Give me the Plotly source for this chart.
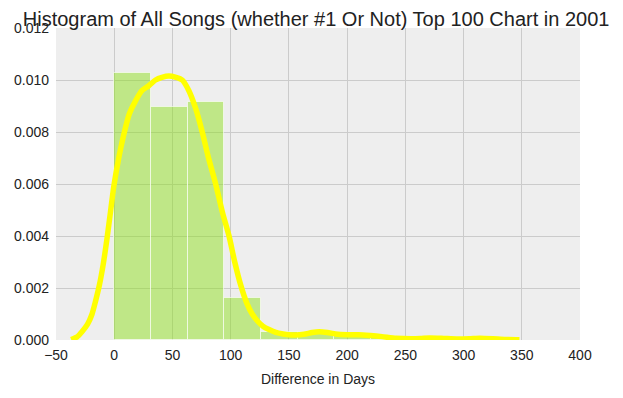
import plotly.graph_objects as go

# Histogram (density) bins
bin_left = [0, 31.5, 63, 94.5, 126, 157.5, 189, 220.5, 252, 283.5, 315]
bin_width = 31.5
bin_density = [0.01027, 0.00897, 0.00917, 0.00163, 0.00032, 0.00030, 0.00020,
               0.00010, 0.00008, 0.00008, 0.00006]

# KDE curve
kde_x = [-37, -32, -27.7, -23, -19.1, -16, -12.8, -9.5, -6.2, -3, -0.4, 3.9, 8.2, 13,
         18.3, 24, 29.7, 35.5, 41, 47, 53, 58.4, 64, 70, 75.6, 81, 87.1, 93, 98.6,
         103.5, 108.7, 114, 118.5, 123, 128, 133, 138.8, 145, 150, 156, 163, 170, 176,
         183, 190, 200, 210, 220, 230, 242, 255, 263, 271, 283, 294, 305, 314, 325,
         336, 348]
kde_y = [0.00002, 0.00012, 0.00032, 0.0006, 0.00099, 0.0015, 0.0021, 0.0029, 0.0039,
         0.0050, 0.0059, 0.0070, 0.0079, 0.0087, 0.0092, 0.0096, 0.00978, 0.0100, 0.0101,
         0.01015, 0.0101, 0.0100, 0.0096, 0.0089, 0.0080, 0.0070, 0.0060, 0.0049,
         0.0040, 0.0030, 0.0021, 0.0014, 0.0010, 0.00073, 0.00052, 0.0004, 0.00029,
         0.00023, 0.0002, 0.00019, 0.00022, 0.00029, 0.00032, 0.00029, 0.00023,
         0.0002, 0.0002, 0.00017, 0.00013, 0.00007, 0.00005, 0.00006, 0.00008,
         0.00006, 0.00004, 0.00005, 0.00007, 0.00005, 0.00002, 0.00001]

x_ticks = [-50, 0, 50, 100, 150, 200, 250, 300, 350, 400]
y_ticks = [0.000, 0.002, 0.004, 0.006, 0.008, 0.010, 0.012]

title_text = "Histogram of All Songs (whether #1 Or Not) Top 100 Chart in 2001"
x_title = "Difference in Days"

centers = [b + bin_width / 2 for b in bin_left]

fig = go.Figure()
fig.add_trace(go.Bar(
    x=centers, y=bin_density, width=[bin_width] * len(centers),
    marker=dict(color="rgba(144,224,32,0.5)",
                line=dict(color="rgba(255,255,255,0.6)", width=1)),
    hoverinfo="skip", showlegend=False,
))
fig.add_trace(go.Scatter(
    x=kde_x, y=kde_y, mode="lines",
    line=dict(color="#FFFF00", width=5.5, shape="spline", smoothing=0.6),
    showlegend=False,
))

font_family = "Liberation Sans, Arial, sans-serif"
fig.update_layout(
    width=615, height=390,
    margin=dict(l=48, r=43, t=20, b=58),
    paper_bgcolor="white",
    plot_bgcolor="#EEEEEE",
    bargap=0,
    title=dict(text=title_text, x=0.501, xanchor="center", y=0.971, yanchor="middle",
               font=dict(family=font_family, size=20, color="#222222")),
    font=dict(family=font_family, size=14, color="#222222"),
)
fig.update_xaxes(
    range=[-50, 400], tickvals=x_ticks, ticktext=[str(v).replace("-", "\u2212") for v in x_ticks],
    showgrid=True, gridcolor="#CBCBCB", gridwidth=1.3, zeroline=False,
    showline=False, ticks="", ticklen=0, automargin=False, ticklabelstandoff=5,
    tickfont=dict(family=font_family, size=14, color="#222222"),
    title=dict(text=x_title, font=dict(family=font_family, size=14, color="#222222"), standoff=12),
)
fig.update_yaxes(
    range=[0, 0.012], tickvals=y_ticks, ticktext=[f"{v:.3f}" for v in y_ticks],
    showgrid=True, gridcolor="#CBCBCB", gridwidth=1.3, zeroline=False,
    showline=False, ticks="", ticklen=0, automargin=False, ticklabelstandoff=6,
    tickfont=dict(family=font_family, size=14, color="#222222"),
)

fig.write_html("out.html")
